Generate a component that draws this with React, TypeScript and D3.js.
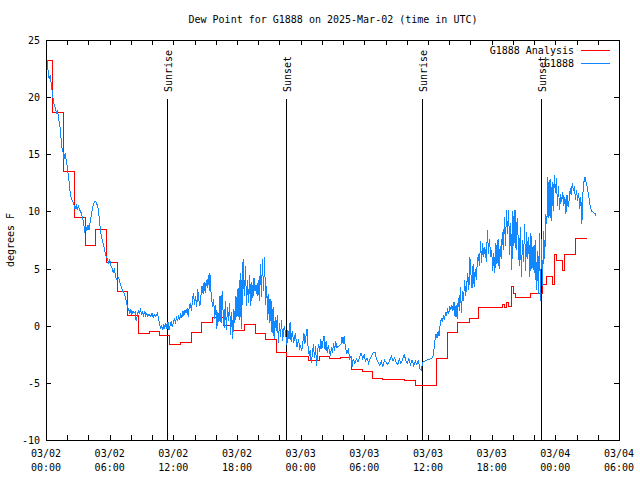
import React from "react";
import * as d3 from "d3";

const TITLE = "Dew Point for G1888 on 2025-Mar-02 (time in UTC)";
const Y_LABEL = "degrees F";
const START = Date.UTC(2025, 2, 2, 0, 0);
const END = Date.UTC(2025, 2, 4, 6, 0);
const yTicks = [-10, -5, 0, 5, 10, 15, 20, 25];
const seriesNames = ["G1888 Analysis", "G1888"];
const seriesColors = ["#ff0000", "#1188ff"];

const eventHours = [11.4, 22.62, 35.43, 46.65];
const eventLabels = ["Sunrise", "Sunset", "Sunrise", "Sunset"];

// hours since 03/02 00:00 UTC, value (°F) — analysis (step)
const analysis: [number, number][] = [
  [0, 23.2], [0.65, 18.7], [1.65, 13.5], [2.65, 9.5], [3.68, 7.0], [4.68, 8.4], [5.7, 5.5],
  [6.7, 3.0], [7.7, 0.87], [8.75, -0.67], [9.75, -0.49], [10.72, -0.84], [11.68, -1.63],
  [12.69, -1.49], [13.68, -0.55], [14.68, 0.3], [15.68, 0.7], [16.7, 0.03], [17.7, -0.4],
  [18.7, 0.12], [19.7, -0.67], [20.7, -1.19], [21.75, -2.33], [22.7, -2.68], [24.75, -3.03],
  [25.75, -2.68], [26.75, -2.88], [27.75, -2.77], [28.8, -3.82], [29.85, -4.02], [30.8, -4.64],
  [31.75, -4.69], [33.8, -4.78], [34.8, -5.22], [36.8, -2.9], [37.8, -0.6], [38.8, 0.3],
  [39.9, 0.65], [40.8, 1.6], [43.0, 1.9], [43.2, 1.6], [43.4, 2.0], [43.6, 1.7], [43.9, 3.4],
  [44.05, 2.8], [44.2, 2.5], [45.7, 2.8], [46.75, 3.65], [47.2, 4.3], [47.7, 3.65], [47.9, 6.2],
  [48.1, 5.75], [48.7, 4.87], [48.9, 6.2], [49.9, 7.65], [50.95, 7.65],
];

// hours since 03/02 00:00 UTC, value (°F) — station observations
const station: [number, number][] = [
  [0, 24.6], [0.05, 24.0], [0.1, 23.2], [0.2, 22.3], [0.3, 21.6], [0.4, 21.9], [0.5, 21.1], [0.6, 20.4],
  [0.7, 19.6], [0.8, 19.3], [0.9, 18.9], [1.0, 18.6], [1.1, 18.8], [1.2, 18.0], [1.3, 17.6], [1.4, 16.6],
  [1.5, 15.6], [1.6, 15.2], [1.7, 14.6], [1.8, 15.1], [1.9, 14.5], [2.0, 14.0], [2.1, 13.2], [2.2, 12.4],
  [2.3, 11.4], [2.45, 11.0], [2.6, 10.7], [2.75, 10.2], [2.85, 10.6], [2.95, 10.1], [3.05, 10.5],
  [3.15, 10.2], [3.3, 9.9], [3.45, 9.4], [3.55, 9.0], [3.65, 8.1], [3.75, 8.7], [3.85, 8.3], [3.95, 8.8],
  [4.05, 8.4], [4.15, 9.0], [4.25, 9.6], [4.35, 10.1], [4.45, 10.6], [4.6, 10.9], [4.75, 10.8],
  [4.9, 10.3], [5.0, 9.6], [5.1, 8.6], [5.2, 7.9], [5.35, 7.3], [5.5, 6.8], [5.6, 6.2], [5.75, 5.9],
  [5.9, 5.5], [6.0, 5.8], [6.1, 5.3], [6.25, 5.0], [6.35, 4.6], [6.45, 5.0], [6.55, 4.3], [6.7, 4.0],
  [6.85, 4.2], [7.0, 3.6], [7.1, 3.4], [7.25, 3.0], [7.4, 2.8], [7.5, 2.4], [7.6, 2.0], [7.7, 1.6],
  [7.8, 1.4], [7.9, 1.1], [8.0, 1.4], [8.1, 1.0], [8.2, 1.3], [8.3, 1.1], [8.4, 1.2], [8.5, 0.4],
  [8.6, 0.9], [8.7, 1.3], [8.8, 1.0], [8.9, 1.5], [9.0, 1.0], [9.1, 1.2], [9.2, 0.9], [9.3, 1.3],
  [9.4, 0.9], [9.5, 1.1], [9.6, 0.8], [9.7, 1.0], [9.85, 0.8], [10.0, 1.1], [10.1, 0.7], [10.2, 1.0],
  [10.35, 0.8], [10.5, 1.1], [10.6, 0.6], [10.7, 0.2], [10.8, -0.3], [10.9, 0.0], [11.0, -0.4],
  [11.1, 0.1], [11.2, -0.2], [11.3, 0.2], [11.4, -0.3], [11.5, 0.3], [11.6, -0.4], [11.7, 0.0],
  [11.8, 0.4], [11.9, -0.1], [12.0, 0.3], [12.1, 0.6], [12.2, 0.3], [12.3, 0.7], [12.4, 0.4],
  [12.5, 0.9], [12.6, 0.6], [12.7, 1.0], [12.8, 0.7], [12.9, 1.3], [13.0, 0.9], [13.1, 1.4],
  [13.2, 1.1], [13.3, 1.5], [13.4, 0.8], [13.5, 1.6], [13.6, 2.0], [13.7, 1.3], [13.8, 2.2],
  [13.9, 2.9], [14.0, 1.8], [14.1, 2.6], [14.2, 1.6], [14.3, 3.2], [14.4, 2.3], [14.5, 1.7],
  [14.6, 2.6], [14.7, 3.5], [14.8, 2.8], [14.9, 3.8], [15.0, 2.9], [15.1, 4.0], [15.2, 3.3],
  [15.3, 4.4], [15.4, 3.0], [15.45, 4.6], [15.5, 3.6], [15.6, 2.4], [15.7, 1.6], [15.8, 2.3],
  [15.9, 0.6], [16.0, 1.8], [16.1, -0.3], [16.2, 1.2], [16.3, 0.3], [16.4, 2.6], [16.5, 0.2],
  [16.6, 3.0], [16.7, 1.0], [16.8, -0.2], [16.9, 2.2], [17.0, -0.4], [17.1, 1.6], [17.2, 0.4],
  [17.3, 2.0], [17.4, -0.8], [17.5, 1.2], [17.6, -1.2], [17.7, 1.5], [17.8, 0.2], [17.9, 2.6],
  [18.0, 0.8], [18.1, 3.3], [18.2, 0.5], [18.3, 4.6], [18.4, -0.3], [18.5, 5.6], [18.55, 1.8],
  [18.6, 5.8], [18.7, 2.6], [18.8, 5.2], [18.9, 1.7], [19.0, 4.0], [19.1, 2.0], [19.2, 4.4],
  [19.3, 1.7], [19.4, 3.8], [19.5, 2.4], [19.6, 4.2], [19.7, 3.0], [19.8, 3.6], [19.9, 2.6],
  [20.0, 4.0], [20.1, 2.2], [20.2, 5.4], [20.3, 2.5], [20.4, 5.8], [20.5, 3.0], [20.6, 6.0],
  [20.7, 1.8], [20.8, 3.5], [20.9, 0.5], [21.0, 2.8], [21.1, 0.2], [21.2, 2.3], [21.3, -0.6],
  [21.4, 1.6], [21.5, -1.2], [21.6, 0.8], [21.7, -0.5], [21.8, 0.9], [21.9, -1.5], [22.0, 0.2],
  [22.1, -1.0], [22.2, 0.5], [22.3, -1.3], [22.45, 0.0], [22.6, -0.8], [22.7, -1.7], [22.8, -0.4],
  [22.9, -1.2], [23.0, 0.3], [23.1, -1.4], [23.2, -0.5], [23.35, -1.5], [23.5, -0.6], [23.65, -1.9],
  [23.8, -1.2], [23.9, -2.0], [24.0, -1.8], [24.1, -2.2], [24.2, -1.5], [24.3, -0.6], [24.4, -1.6],
  [24.5, -0.9], [24.6, -0.3], [24.7, -1.9], [24.8, -2.6], [24.9, -2.1], [25.0, -3.3], [25.1, -2.5],
  [25.2, -1.6], [25.3, -2.8], [25.4, -1.8], [25.5, -3.5], [25.6, -2.2], [25.7, -1.6], [25.8, -2.3],
  [25.9, -1.2], [26.0, -2.0], [26.1, -1.4], [26.2, -0.9], [26.3, -2.1], [26.4, -1.3], [26.5, -2.4],
  [26.6, -1.7], [26.7, -2.2], [26.8, -2.6], [26.9, -1.9], [27.0, -2.4], [27.1, -1.5], [27.2, -2.2],
  [27.3, -1.3], [27.4, -1.9], [27.6, -1.8], [27.8, -1.6], [27.9, -1.0], [28.0, -1.6], [28.1, -0.9],
  [28.2, -1.8], [28.35, -2.4], [28.5, -2.0], [28.6, -2.9], [28.75, -2.7], [28.85, -3.6], [28.95, -2.9],
  [29.1, -3.3], [29.25, -2.9], [29.4, -3.2], [29.55, -2.8], [29.7, -2.4], [29.85, -2.9], [30.0, -2.5],
  [30.1, -3.1], [30.25, -2.8], [30.4, -3.3], [30.55, -2.9], [30.7, -2.6], [30.85, -2.3], [31.0, -2.3],
  [31.15, -2.9], [31.3, -3.2], [31.45, -3.5], [31.6, -3.1], [31.75, -3.6], [31.9, -3.0], [32.05, -3.2],
  [32.2, -3.4], [32.4, -3.0], [32.55, -2.7], [32.7, -3.1], [32.85, -2.8], [33.0, -3.2], [33.15, -3.4],
  [33.3, -2.9], [33.45, -3.3], [33.6, -3.0], [33.75, -2.5], [33.9, -3.0], [34.05, -3.3], [34.2, -2.9],
  [34.35, -3.4], [34.5, -3.0], [34.65, -3.5], [34.8, -3.1], [34.95, -3.4], [35.1, -3.0], [35.2, -3.7],
  [35.35, -3.9], [35.5, -3.2], [35.65, -3.1], [35.9, -3.0], [36.2, -2.9], [36.45, -2.8], [36.55, -2.2],
  [36.65, -1.3], [36.75, -0.7], [36.85, -1.1], [36.95, -0.5], [37.05, -0.9], [37.15, 0.2], [37.25, 0.6],
  [37.35, 0.4], [37.45, 0.8], [37.55, 0.5], [37.65, 1.2], [37.75, 0.9], [37.85, 1.5], [37.95, 1.0],
  [38.05, 1.7], [38.15, 1.4], [38.25, 1.8], [38.35, 1.3], [38.45, 2.1], [38.55, 0.8], [38.65, 1.8],
  [38.75, 0.6], [38.85, 2.4], [38.95, 1.3], [39.05, 3.4], [39.15, 1.1], [39.25, 3.0], [39.35, 2.2],
  [39.45, 4.0], [39.55, 2.6], [39.65, 3.6], [39.75, 4.6], [39.85, 3.1], [39.95, 6.0], [40.05, 4.5],
  [40.15, 3.3], [40.25, 5.4], [40.35, 3.4], [40.45, 5.0], [40.55, 4.0], [40.65, 5.6], [40.75, 6.3],
  [40.85, 5.2], [40.95, 7.4], [41.05, 5.5], [41.15, 7.2], [41.25, 6.0], [41.35, 6.9], [41.5, 5.6],
  [41.6, 8.4], [41.7, 6.3], [41.8, 7.6], [41.9, 6.0], [42.0, 6.6], [42.1, 4.8], [42.2, 6.4], [42.3, 4.6],
  [42.4, 7.2], [42.5, 5.4], [42.6, 7.6], [42.7, 5.0], [42.8, 7.0], [42.9, 5.8], [43.0, 8.2], [43.1, 6.6],
  [43.2, 9.5], [43.3, 7.0], [43.4, 10.1], [43.5, 8.0], [43.6, 10.1], [43.7, 6.2], [43.8, 9.0],
  [43.9, 4.9], [44.0, 10.0], [44.1, 7.0], [44.2, 10.1], [44.3, 6.6], [44.4, 9.4], [44.5, 7.6],
  [44.6, 5.2], [44.7, 8.6], [44.8, 4.3], [44.9, 7.5], [45.0, 5.6], [45.1, 8.9], [45.2, 4.8], [45.3, 8.2],
  [45.4, 5.8], [45.5, 7.8], [45.6, 4.3], [45.7, 8.1], [45.8, 5.0], [45.9, 7.0], [46.0, 4.6], [46.1, 7.5],
  [46.2, 3.1], [46.3, 6.5], [46.4, 2.8], [46.5, 8.1], [46.6, 2.2], [46.7, 7.6], [46.8, 3.5], [46.9, 8.3],
  [47.0, 5.8], [47.1, 9.8], [47.2, 8.9], [47.3, 13.0], [47.4, 9.4], [47.5, 12.8], [47.6, 9.2],
  [47.7, 12.6], [47.8, 10.0], [47.9, 13.2], [48.0, 11.6], [48.1, 12.9], [48.2, 10.5], [48.3, 12.2],
  [48.4, 10.1], [48.5, 11.5], [48.6, 10.8], [48.7, 11.7], [48.8, 10.5], [48.9, 11.3], [49.0, 9.8],
  [49.1, 11.4], [49.2, 10.4], [49.3, 11.0], [49.4, 12.0], [49.5, 11.4], [49.6, 12.5], [49.7, 11.8],
  [49.8, 12.2], [49.9, 11.0], [50.0, 11.9], [50.1, 10.9], [50.2, 11.6], [50.3, 10.2], [50.4, 11.3],
  [50.5, 8.9], [50.6, 11.6], [50.7, 12.6], [50.8, 13.0], [50.9, 12.5], [51.0, 12.2], [51.1, 11.6],
  [51.2, 11.0], [51.3, 10.4], [51.45, 10.0], [51.6, 9.9], [51.75, 9.8], [51.85, 9.6],
];

const W = 640, H = 480;
const M = { left: 46, right: 619, top: 40, bottom: 440 };
const FONT = "'DejaVu Sans Mono', 'Liberation Mono', monospace";

export default function App() {
  const x = d3.scaleUtc().domain([new Date(START), new Date(END)]).range([M.left, M.right]);
  const y = d3.scaleLinear().domain([-10, 25]).range([M.bottom, M.top]);
  const hx = (h: number) => x(new Date(START + h * 3600000));

  const stepLine = d3
    .line<[number, number]>()
    .x((d) => hx(d[0]))
    .y((d) => y(d[1]))
    .curve(d3.curveStepAfter);
  const obsLine = d3
    .line<[number, number]>()
    .x((d) => hx(d[0]))
    .y((d) => y(d[1]))
    .curve(d3.curveLinear);

  const majorTicks = x.ticks(d3.utcHour.every(6)!);
  const minorTicks = x.ticks(d3.utcHour.every(2)!);
  const fmtDate = d3.utcFormat("%m/%d");
  const fmtTime = d3.utcFormat("%H:%M");
  const tk = 5;

  return (
    <svg width={W} height={H} style={{ position: "absolute", left: 0, top: 0, background: "#fff" }}
      fontFamily={FONT} fontSize={10}>
      <rect x={0} y={0} width={W} height={H} fill="#fff" />
      <text x={333} y={23} textAnchor="middle" fill="#000">{TITLE}</text>
      <text transform={`translate(14,${(M.top + M.bottom) / 2}) rotate(-90)`} textAnchor="middle" fill="#000">{Y_LABEL}</text>

      <g shapeRendering="crispEdges" stroke="#000">
        {yTicks.map((t) => (
          <g key={t}>
            <line x1={M.left} x2={M.left + tk} y1={Math.round(y(t)) + 0.5} y2={Math.round(y(t)) + 0.5} />
            <line x1={M.right - tk} x2={M.right} y1={Math.round(y(t)) + 0.5} y2={Math.round(y(t)) + 0.5} />
          </g>
        ))}
        {minorTicks.map((t, i) => {
          const px = Math.round(x(t)) + 0.5;
          return (
            <g key={i}>
              <line x1={px} x2={px} y1={M.bottom} y2={M.bottom - tk} />
              <line x1={px} x2={px} y1={M.top} y2={M.top + tk} />
            </g>
          );
        })}
      </g>
      {yTicks.map((t) => (
        <text key={t} x={40} y={y(t) + 4} textAnchor="end" fill="#000">{t}</text>
      ))}
      {majorTicks.map((t, i) => (
        <g key={i}>
          <text x={x(t)} y={457} textAnchor="middle" fill="#000">{fmtDate(t)}</text>
          <text x={x(t)} y={471} textAnchor="middle" fill="#000">{fmtTime(t)}</text>
        </g>
      ))}

      {eventHours.map((h, i) => {
        const px = Math.round(hx(h)) + 0.5;
        return (
          <g key={i}>
            <line x1={px} x2={px} y1={99} y2={M.bottom} stroke="#000" shapeRendering="crispEdges" />
            <text transform={`translate(${px + 4},92) rotate(-90)`} textAnchor="start" fill="#000">{eventLabels[i]}</text>
          </g>
        );
      })}

      <path d={stepLine(analysis) || ""} fill="none" stroke={seriesColors[0]} strokeWidth={1} shapeRendering="crispEdges" />
      <path d={obsLine(station) || ""} fill="none" stroke={seriesColors[1]} strokeWidth={1} shapeRendering="crispEdges" />

      {seriesNames.map((n, i) => (
        <g key={n}>
          <text x={574} y={54 + i * 12.5} textAnchor="end" fill="#000">{n}</text>
          <line x1={581} x2={610} y1={50.5 + i * 12.5} y2={50.5 + i * 12.5} stroke={seriesColors[i]} shapeRendering="crispEdges" />
        </g>
      ))}

      <rect x={M.left + 0.5} y={M.top + 0.5} width={M.right - M.left} height={M.bottom - M.top} fill="none" stroke="#000" shapeRendering="crispEdges" />
    </svg>
  );
}
